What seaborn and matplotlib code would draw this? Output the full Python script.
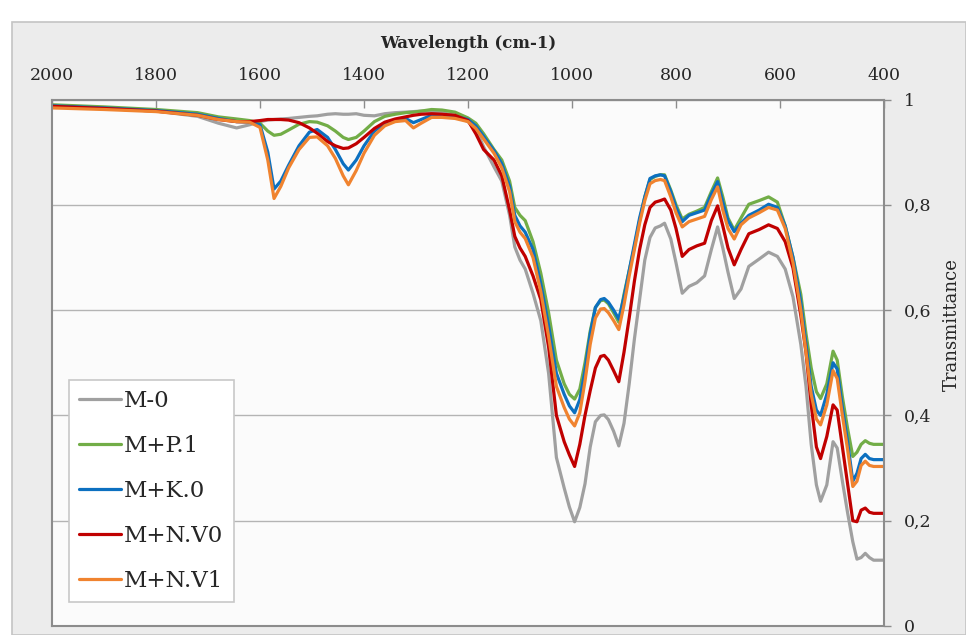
import numpy as np
import pandas as pd
import matplotlib
matplotlib.use("Agg")
import matplotlib.pyplot as plt
from matplotlib.patches import Rectangle
import seaborn as sns

# ---------------- data ----------------
wavenumber = [2000, 1900, 1800, 1720, 1680, 1645, 1620, 1600, 1585, 1573, 1560, 1545, 1525, 1505, 1490,
              1470, 1455, 1440, 1430, 1415, 1400, 1380, 1360, 1340, 1320, 1305, 1290, 1270, 1250, 1225,
              1200, 1185, 1170, 1150, 1135, 1120, 1110, 1100, 1090, 1075, 1060, 1045, 1030, 1015, 1005,
              995, 985, 975, 965, 955, 945, 938, 930, 920, 910, 900, 890, 880, 870, 860,
              850, 840, 830, 822, 810, 800, 788, 775, 760, 745, 732, 720, 710, 700, 688,
              675, 660, 640, 622, 605, 590, 575, 560, 550, 540, 530, 522, 510, 498, 490,
              480, 470, 460, 452, 444, 436, 428, 420, 400]

m0 = [0.988, 0.983, 0.978, 0.968, 0.955, 0.946, 0.952, 0.958, 0.961, 0.962, 0.963, 0.964, 0.966, 0.968, 0.969,
      0.972, 0.973, 0.972, 0.972, 0.973, 0.970, 0.969, 0.973, 0.975, 0.976, 0.977, 0.978, 0.978, 0.975, 0.970,
      0.958, 0.944, 0.910, 0.872, 0.845, 0.780, 0.720, 0.695, 0.678, 0.632, 0.580, 0.480, 0.320, 0.262, 0.226,
      0.198, 0.225, 0.270, 0.340, 0.388, 0.400, 0.401, 0.392, 0.370, 0.342, 0.385, 0.460, 0.545, 0.620, 0.695,
      0.738, 0.756, 0.760, 0.765, 0.735, 0.690, 0.632, 0.645, 0.652, 0.665, 0.715, 0.758, 0.718, 0.672, 0.622,
      0.640, 0.683, 0.697, 0.710, 0.702, 0.678, 0.625, 0.535, 0.455, 0.345, 0.268, 0.237, 0.268, 0.350, 0.338,
      0.275, 0.215, 0.160, 0.127, 0.130, 0.138, 0.130, 0.125, 0.125]

mp1 = [0.990, 0.986, 0.981, 0.975, 0.967, 0.963, 0.960, 0.955, 0.940, 0.932, 0.934, 0.942, 0.953, 0.958, 0.957,
       0.950, 0.940, 0.928, 0.924, 0.928, 0.940, 0.958, 0.968, 0.972, 0.975, 0.976, 0.978, 0.981, 0.980, 0.976,
       0.965, 0.955, 0.935, 0.905, 0.885, 0.845, 0.795, 0.780, 0.770, 0.730, 0.670, 0.595, 0.505, 0.460, 0.440,
       0.431, 0.450, 0.500, 0.560, 0.605, 0.618, 0.619, 0.612, 0.595, 0.577, 0.630, 0.675, 0.720, 0.770, 0.815,
       0.848, 0.854, 0.857, 0.857, 0.828, 0.800, 0.773, 0.782, 0.788, 0.795, 0.825, 0.851, 0.815, 0.775, 0.752,
       0.775, 0.801, 0.808, 0.815, 0.805, 0.760, 0.700, 0.630, 0.555, 0.490, 0.445, 0.432, 0.460, 0.522, 0.505,
       0.435, 0.375, 0.322, 0.330, 0.345, 0.352, 0.347, 0.345, 0.345]

mk0 = [0.988, 0.984, 0.979, 0.972, 0.964, 0.958, 0.957, 0.952, 0.900, 0.830, 0.845, 0.875, 0.912, 0.938, 0.943,
       0.928, 0.905, 0.878, 0.866, 0.885, 0.912, 0.940, 0.955, 0.961, 0.964, 0.956, 0.962, 0.970, 0.970, 0.968,
       0.962, 0.950, 0.930, 0.903, 0.878, 0.835, 0.780, 0.760, 0.748, 0.715, 0.650, 0.570, 0.480, 0.440, 0.418,
       0.405, 0.430, 0.485, 0.555, 0.605, 0.620, 0.622, 0.615, 0.600, 0.583, 0.625, 0.675, 0.725, 0.775, 0.815,
       0.850, 0.855, 0.857, 0.855, 0.825, 0.795, 0.768, 0.780, 0.785, 0.790, 0.820, 0.844, 0.805, 0.770, 0.749,
       0.765, 0.780, 0.790, 0.801, 0.795, 0.760, 0.700, 0.615, 0.535, 0.455, 0.410, 0.400, 0.440, 0.500, 0.488,
       0.415, 0.350, 0.275, 0.290, 0.318, 0.326, 0.318, 0.316, 0.316]

mnv0 = [0.987, 0.983, 0.978, 0.970, 0.962, 0.958, 0.958, 0.960, 0.962, 0.962, 0.962, 0.961, 0.956, 0.946, 0.936,
        0.920, 0.912, 0.907, 0.908, 0.916, 0.928, 0.945, 0.957, 0.963, 0.967, 0.970, 0.972, 0.973, 0.972, 0.970,
        0.960, 0.935, 0.905, 0.885, 0.855, 0.790, 0.740, 0.718, 0.702, 0.665, 0.620, 0.530, 0.400, 0.350, 0.325,
        0.303, 0.345, 0.400, 0.447, 0.490, 0.512, 0.514, 0.505, 0.485, 0.464, 0.520, 0.585, 0.655, 0.715, 0.762,
        0.795, 0.805, 0.808, 0.811, 0.790, 0.755, 0.702, 0.715, 0.722, 0.727, 0.770, 0.798, 0.760, 0.718, 0.686,
        0.715, 0.745, 0.753, 0.762, 0.755, 0.730, 0.680, 0.590, 0.520, 0.420, 0.340, 0.318, 0.360, 0.420, 0.410,
        0.340, 0.270, 0.200, 0.198, 0.220, 0.224, 0.216, 0.214, 0.214]

mnv1 = [0.984, 0.981, 0.977, 0.970, 0.962, 0.958, 0.957, 0.947, 0.885, 0.812, 0.835, 0.870, 0.905, 0.928, 0.929,
        0.912, 0.888, 0.855, 0.838, 0.865, 0.898, 0.932, 0.950, 0.958, 0.960, 0.946, 0.955, 0.966, 0.966, 0.964,
        0.958, 0.945, 0.925, 0.898, 0.870, 0.825, 0.768, 0.748, 0.736, 0.700, 0.635, 0.550, 0.455, 0.415, 0.393,
        0.380, 0.405, 0.465, 0.535, 0.585, 0.602, 0.603, 0.595, 0.580, 0.563, 0.610, 0.665, 0.715, 0.765, 0.808,
        0.840, 0.846, 0.848, 0.846, 0.815, 0.785, 0.758, 0.768, 0.773, 0.778, 0.810, 0.834, 0.790, 0.755, 0.735,
        0.762, 0.775, 0.785, 0.795, 0.790, 0.755, 0.690, 0.600, 0.520, 0.440, 0.393, 0.382, 0.420, 0.485, 0.470,
        0.400, 0.335, 0.265, 0.275, 0.305, 0.313, 0.305, 0.303, 0.303]

series_names = ["M-0", "M+P.1", "M+K.0", "M+N.V0", "M+N.V1"]
series_values = [m0, mp1, mk0, mnv0, mnv1]
colors = ["#a0a0a0", "#72ad47", "#0c70c0", "#c00000", "#f0832f"]

x_ticks = [2000, 1800, 1600, 1400, 1200, 1000, 800, 600, 400]
y_ticks = [0, 0.2, 0.4, 0.6, 0.8, 1.0]
y_tick_labels = ["0", "0,2", "0,4", "0,6", "0,8", "1"]

# ---------------- frame ----------------
frames = []
for name, vals in zip(series_names, series_values):
    assert len(vals) == len(wavenumber), name
    frames.append(pd.DataFrame({"wn": wavenumber, "T": vals, "sample": name}))
df = pd.concat(frames, ignore_index=True)

sns.set_theme(style="white")
plt.rcParams["font.family"] = ["DejaVu Serif"]

W, H = 966, 635
fig = plt.figure(figsize=(W / 100, H / 100), dpi=100)
fig.patch.set_facecolor("white")
bg = Rectangle((12 / W, 0), 1 - 12 / W, 1 - 22 / H, transform=fig.transFigure,
               facecolor="#ececec", edgecolor="#c4c4c4", lw=1.2, zorder=-10)
fig.add_artist(bg)

ax = fig.add_axes([52 / W, 9 / H, 832 / W, 526.5 / H])
ax.set_zorder(1)
ax.set_facecolor("#fbfbfb")

sns.lineplot(data=df, x="wn", y="T", hue="sample", hue_order=series_names,
             palette=dict(zip(series_names, colors)), linewidth=2.3,
             estimator=None, ax=ax)

ax.set_xlim(2000, 400)
ax.set_ylim(0, 1)
ax.xaxis.tick_top()
ax.xaxis.set_label_position("top")
ax.yaxis.tick_right()
ax.yaxis.set_label_position("right")

ax.set_xticks(x_ticks)
ax.set_xticklabels([str(v) for v in x_ticks])
ax.set_yticks(y_ticks)
ax.set_yticklabels(y_tick_labels)

ax.tick_params(axis="x", direction="in", length=6, width=1, color="#8c8c8c",
               labelsize=12.5, pad=11, top=True, bottom=False)
ax.tick_params(axis="y", direction="out", length=5, width=1, color="#8c8c8c",
               labelsize=12.5, pad=9, right=True, left=False)

ax.set_xlabel("Wavelength (cm-1)", fontsize=12, fontweight="bold", labelpad=14)
ax.set_ylabel("Transmittance", fontsize=13)
ax.yaxis.set_label_coords(1.071, 0.572)

ax.grid(axis="y", color="#b4b4b4", lw=1)
ax.grid(axis="x", visible=False)
ax.set_axisbelow(True)
for s in ax.spines.values():
    s.set_color("#8c8c8c")
    s.set_linewidth(1.5)
    s.set_visible(True)

leg = ax.legend(loc="lower left", bbox_to_anchor=(0.0204, 0.0456), borderaxespad=0,
                frameon=True, fancybox=False, edgecolor="#c8c8c8", facecolor="white",
                framealpha=1, prop={"family": "DejaVu Serif", "size": 16.5},
                handlelength=1.8, handletextpad=0.15, labelspacing=1.0, borderpad=0.45)
leg.get_frame().set_linewidth(1.2)
for line in leg.get_lines():
    line.set_linewidth(2.3)

fig.savefig("out.png", dpi=100, facecolor=fig.get_facecolor())
